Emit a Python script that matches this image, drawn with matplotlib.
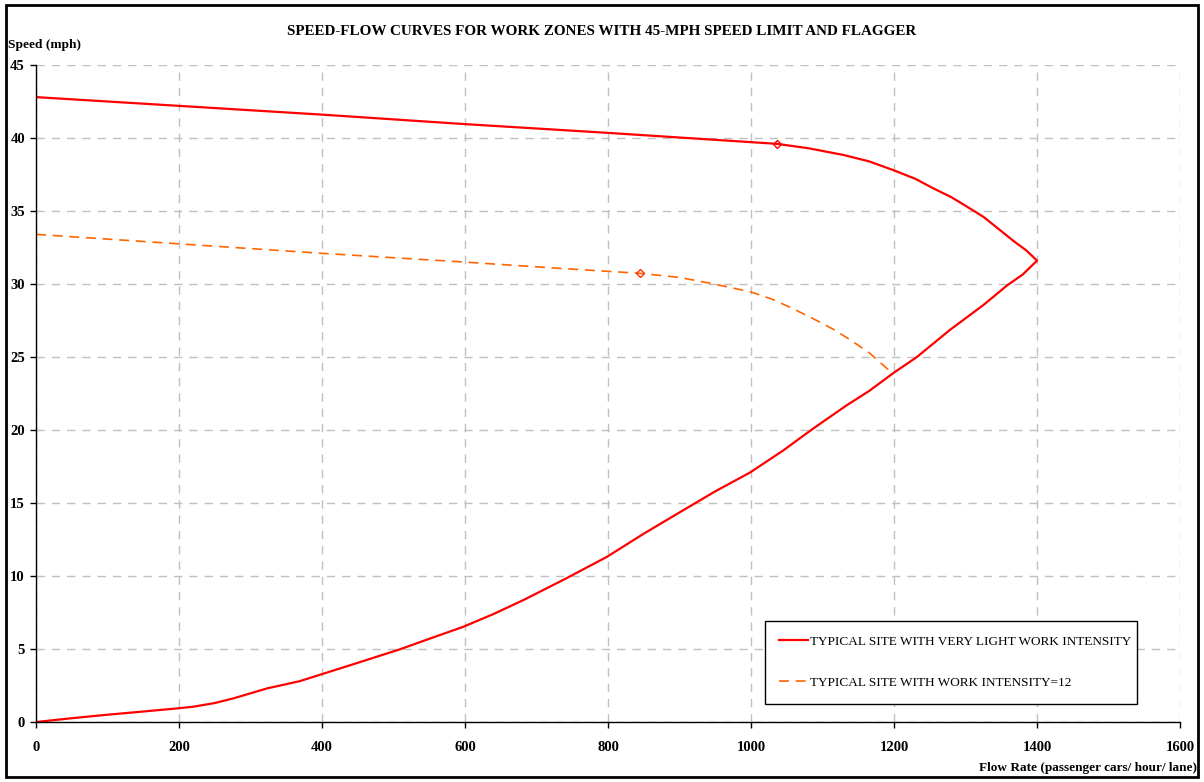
import matplotlib
matplotlib.use("Agg")
import matplotlib.pyplot as plt
from matplotlib.patches import Rectangle

# Very light work intensity: upper branch then lower (congested) branch
light_flow = [0, 200, 400, 600, 800, 1036, 1080, 1129, 1165, 1199, 1230, 1255, 1280, 1302,
              1325, 1348, 1367, 1385, 1400,
              1380, 1358, 1325, 1278, 1232, 1199, 1166, 1134, 1087, 1045, 999, 950, 905,
              850, 798, 740, 682, 640, 598, 550, 509, 440, 369, 323, 276, 250, 220, 199,
              150, 100, 50, 0]
light_speed = [42.8, 42.2, 41.6, 40.95, 40.35, 39.6, 39.3, 38.84, 38.4, 37.8, 37.2, 36.55, 35.95, 35.3,
               34.6, 33.7, 32.95, 32.3, 31.6,
               30.65, 29.9, 28.56, 26.85, 25.0, 23.9, 22.7, 21.7, 20.1, 18.6, 17.1, 15.8, 14.5,
               12.9, 11.3, 9.8, 8.36, 7.4, 6.53, 5.7, 4.98, 3.9, 2.8, 2.3, 1.62, 1.3, 1.05, 0.94,
               0.72, 0.5, 0.26, 0.0]
light_marker = (1036, 39.6)

# Work intensity = 12
wi12_flow = [0, 200, 400, 600, 733, 845, 900, 943, 999, 1030, 1059, 1092, 1115, 1138, 1165, 1195]
wi12_speed = [33.4, 32.75, 32.1, 31.5, 31.07, 30.73, 30.45, 30.05, 29.47, 28.95, 28.3, 27.5,
              26.9, 26.2, 25.3, 24.0]
wi12_marker = (845, 30.73)

x_ticks = [0, 200, 400, 600, 800, 1000, 1200, 1400, 1600]
y_ticks = [0, 5, 10, 15, 20, 25, 30, 35, 40, 45]

serif = ["Liberation Serif", "DejaVu Serif"]

fig = plt.figure(figsize=(12.04, 7.82), dpi=100)
ax = fig.add_axes([0.0299, 0.0767, 0.9502, 0.8402])

ax.plot(light_flow, light_speed, color="#ff0000", lw=1.6,
        label="TYPICAL SITE WITH VERY LIGHT WORK INTENSITY")
ax.plot(wi12_flow, wi12_speed, color="#ff6600", lw=1.2, dashes=(6, 4),
        label="TYPICAL SITE WITH WORK INTENSITY=12")
ax.plot([light_marker[0]], [light_marker[1]], marker="D", ms=4, mfc="none",
        mec="#ff0000", mew=1)
ax.plot([wi12_marker[0]], [wi12_marker[1]], marker="D", ms=4, mfc="none",
        mec="#ff3300", mew=1)

ax.set_xlim(0, 1600)
ax.set_ylim(0, 45)
ax.set_xticks(x_ticks)
ax.set_yticks(y_ticks)
ax.grid(True, color="#c0c0c0", linestyle=(0, (6, 5)), lw=1)
ax.set_axisbelow(True)
for s in ["top", "right"]:
    ax.spines[s].set_visible(False)
for s in ["left", "bottom"]:
    ax.spines[s].set_linewidth(1)
ax.tick_params(direction="out", length=4, width=1, pad=10)
for lbl in ax.get_xticklabels() + ax.get_yticklabels():
    lbl.set_fontfamily(serif)
    lbl.set_fontweight("bold")
    lbl.set_fontsize(10.5)
ax.tick_params(axis="y", pad=4)

fig.text(0.5, 0.96, "SPEED-FLOW CURVES FOR WORK ZONES WITH 45-MPH SPEED LIMIT AND FLAGGER",
         ha="center", va="center", fontsize=10.9, fontweight="bold", family=serif)
fig.text(0.007, 0.943, "Speed (mph)", ha="left", va="center", fontsize=9.6,
         fontweight="bold", family=serif)
fig.text(0.994, 0.018, "Flow Rate (passenger cars/ hour/ lane)", ha="right", va="center",
         fontsize=9.5, fontweight="bold", family=serif)

leg = ax.legend(loc="lower left", bbox_to_anchor=(0.637, 0.028, 0.325, 0.157), mode="expand",
                frameon=True, fancybox=False, edgecolor="black", framealpha=1,
                prop={"family": serif, "size": 9.5}, handlelength=2.2, handletextpad=0.1,
                labelspacing=2.2, borderpad=1.1, borderaxespad=0)
leg.get_frame().set_linewidth(1)

fig.patches.append(Rectangle((0.005, 0.006), 0.99, 0.988, transform=fig.transFigure,
                             fill=False, edgecolor="black", lw=2))

fig.savefig("out.png", dpi=100)
